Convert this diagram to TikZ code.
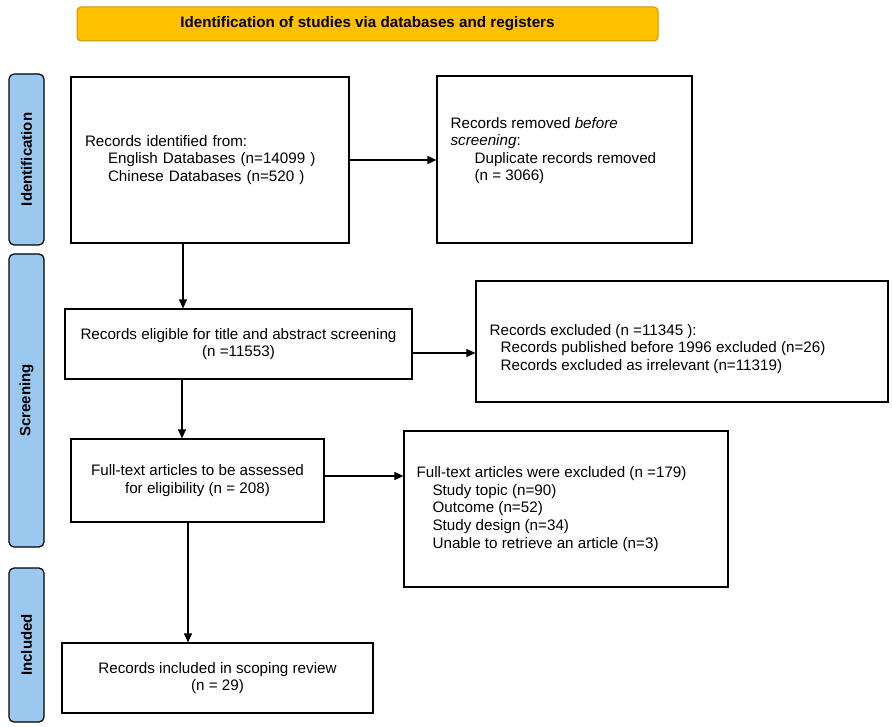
\documentclass[tikz,border=0pt]{standalone}
\usepackage{fontspec}
\setmainfont{Liberation Sans}
\usetikzlibrary{positioning, arrows.meta}
\definecolor{stageblue}{RGB}{155,200,238}
\definecolor{headgold}{RGB}{255,192,0}
\definecolor{headedge}{RGB}{196,150,0}

\begin{document}
\begin{tikzpicture}[x=1pt, y=-1pt,
		box/.style={draw, line width=1.2pt, fill=white, inner sep=0pt, font=\fontsize{15.2}{17.6}\selectfont},
		stage/.style={draw, line width=1.2pt, rounded corners=5pt, fill=stageblue, rotate=90, minimum height=35pt, inner sep=0pt, font=\fontsize{15}{17}\selectfont\bfseries},
		txt/.style={align=left, inner sep=0pt, anchor=west, font=\fontsize{15.2}{17.6}\selectfont},
		arr/.style={-{Triangle[length=9pt, width=8pt]}, line width=1.1pt}]
		\useasboundingbox (0, 0) rectangle (892, 727);
		
		% Header bar and stage labels
		\node[draw=headedge, line width=1pt, rounded corners=4pt, fill=headgold, minimum width=581pt, minimum height=34pt, font=\fontsize{15.2}{17}\selectfont\bfseries] (head) at (367.5, 24) {Identification of studies via databases and registers};
		\node[stage, minimum width=171pt] (sid) at (26.5, 159.5) {Identification};
		\node[stage, minimum width=293pt] (sscr) at (26.5, 400.5) {Screening};
		\node[stage, minimum width=154pt] (sinc) at (26.5, 645) {Included};
		
		% Identification
		\node[box, minimum width=278pt, minimum height=166pt, text width=250pt, inner sep=14pt, align=left] (found) at (210, 160) {Records identified from:\\ \hspace*{23pt}English Databases (n=14099 )\\ \hspace*{23pt}Chinese Databases (n=520 )};
		\node[box, minimum width=255pt, minimum height=167pt] (dup) at (564.5, 159.5) {};
		\node[txt] (duptext) at ([xshift=14pt, yshift=9pt]dup.west) {Records removed \textit{before}\\ \textit{screening}:\\ \hspace*{24pt}Duplicate records removed\\ \hspace*{24pt}(n = 3066)};
		
		% Screening
		\node[box, minimum width=347pt, minimum height=70pt, align=center] (elig) at (238.5, 344) {Records eligible for title and abstract screening\\(n =11553)};
		\node[box, minimum width=412pt, minimum height=121pt] (excl) at (682, 341.5) {};
		\node[txt] (excltext) at ([xshift=14pt, yshift=-7.5pt]excl.west) {Records excluded (n =11345 ):\\ \hspace*{11pt}Records published before 1996 excluded (n=26)\\ \hspace*{11pt}Records excluded as irrelevant (n=11319)};
		\node[box, minimum width=253pt, minimum height=83pt, align=center] (full) at (197.5, 480.5) {Full-text articles to be assessed\\for eligibility (n = 208)};
		\node[box, minimum width=324pt, minimum height=156pt] (fexcl) at (566, 509) {};
		\node[txt] (fexcltext) at ([xshift=13pt]fexcl.west) {Full-text articles were excluded (n =179)\\ \hspace*{16pt}Study topic (n=90)\\ \hspace*{16pt}Outcome (n=52)\\ \hspace*{16pt}Study design (n=34)\\ \hspace*{16pt}Unable to retrieve an article (n=3)};
		
		% Included
		\node[box, minimum width=311pt, minimum height=70pt, align=center] (incl) at (217.5, 678) {Records included in scoping review\\(n = 29)};
		
		% Arrows
		\coordinate (foundout) at ([xshift=-27pt]found.south);
		\coordinate (eligexcl) at ([yshift=-9pt]elig.east);
		\coordinate (eligout) at ([xshift=-56.5pt]elig.south);
		\coordinate (fullexcl) at ([yshift=4.5pt]full.east);
		\coordinate (fullout) at ([xshift=-9.5pt]full.south);
		\draw[arr] (found.east) -- (dup.west |- found.east);
		\draw[arr] (foundout) -- (foundout |- elig.north);
		\draw[arr] (eligexcl) -- (excl.west |- eligexcl);
		\draw[arr] (eligout) -- (eligout |- full.north);
		\draw[arr] (fullexcl) -- (fexcl.west |- fullexcl);
		\draw[arr] (fullout) -- (fullout |- incl.north);
	\end{tikzpicture}
\end{document}
